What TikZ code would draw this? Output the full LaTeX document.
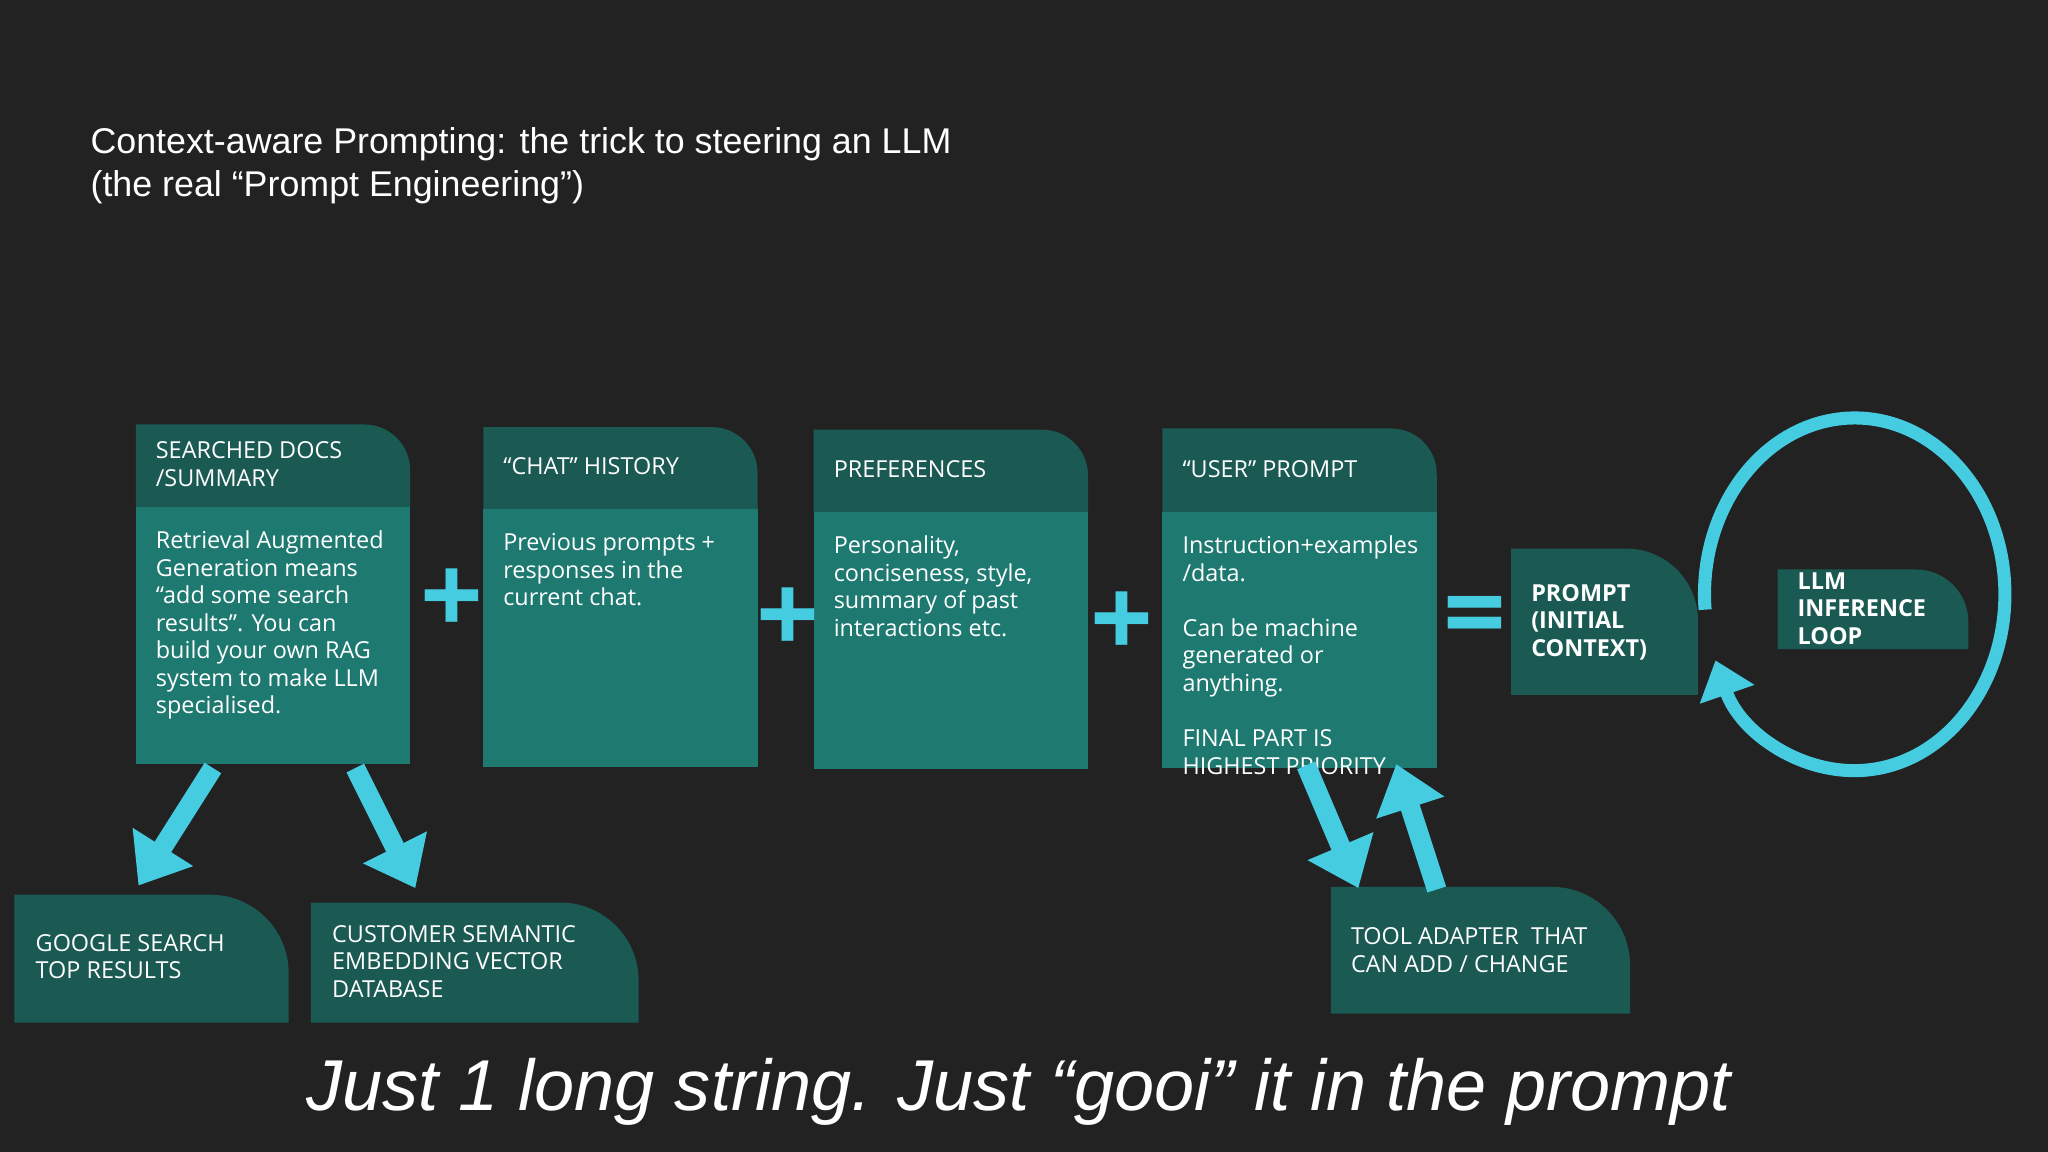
\documentclass[tikz,border=0pt]{standalone}
\usepackage{fontspec}
\setmainfont{Open Sans}
\newfontfamily\arialf{Liberation Sans}
\usetikzlibrary{arrows.meta}
\definecolor{bg}{HTML}{222222}
\definecolor{hd}{HTML}{1A5A53}
\definecolor{bd}{HTML}{1E7A70}
\definecolor{cy}{HTML}{45CCE0}
\tikzset{
 txt/.style={anchor=north west,align=left,text=white,inner sep=0pt,font=\fontsize{10.2}{12}\selectfont},
 htxt/.style={txt},
 barrow/.style={cy,line width=0.3cm,-{Triangle[length=0.7cm,width=1.05cm]}},
 sign/.style={text=cy,font=\fontsize{48}{48}\selectfont\bfseries}
}
\newcommand{\cbox}[5]{% x1 x2 ytop ymid ybot
 \fill[hd] (#1,#4) -- (#1,#3) [rounded corners=0.7cm] -- (#2,#3) [sharp corners] -- (#2,#4) -- cycle;
 \fill[bd] (#1,#4) rectangle (#2,#5);}
\begin{document}
\begin{tikzpicture}[x=0.02cm,y=-0.02cm]
\fill[bg] (0,0) rectangle (1568,882);
\node[anchor=north west,inner sep=0pt,text=white,align=left,font=\arialf\fontsize{15.6}{18.7}\selectfont] (title) at (69,97) {Context-aware Prompting: the trick to steering an LLM\\(the real “Prompt Engineering”)};
% boxes
\cbox{104}{314}{325}{388}{585}
\cbox{370}{580}{327}{390}{587}
\cbox{623}{833}{329}{392}{589}
\cbox{890}{1100}{328}{392}{588}
\node[htxt] (h1) at (119,338) {SEARCHED DOCS\\/SUMMARY};
\node[txt] (b1) at (119,406) {Retrieval Augmented\\Generation means\\“add some search\\results”. You can\\build your own RAG\\system to make LLM\\specialised.};
\node[htxt] (h2) at (385,350) {“CHAT” HISTORY};
\node[txt] (b2) at (385,408) {Previous prompts +\\responses in the\\current chat.};
\node[htxt] (h3) at (638,352) {PREFERENCES};
\node[txt] (b3) at (638,410) {Personality,\\conciseness, style,\\summary of past\\interactions etc.};
\node[htxt] (h4) at (905,352) {“USER” PROMPT};
\node[txt] (b4) at (905,410) {Instruction+examples\\/data.\\[12pt]Can be machine\\generated or\\anything.\\[12pt]FINAL PART IS\\HIGHEST PRIORITY};
% signs
\node[sign] (p1) at (346,461) {+};
\node[sign] (p2) at (603,475) {+};
\node[sign] (p3) at (859,478) {+};
\node[sign] (eq) at (1129,478) {=};
% prompt
\fill[hd] (1157,532) -- (1157,420) [rounded corners=1.1cm] -- (1300,420) [sharp corners] -- (1300,532) -- cycle;
\node[txt,font=\bfseries\fontsize{10.2}{12}\selectfont] (pr) at (1172,447) {PROMPT\\(INITIAL\\CONTEXT)};
\fill[hd] (1361,497) -- (1361,436) [rounded corners=0.8cm] -- (1507,436) [sharp corners] -- (1507,497) -- cycle;
\node[txt,font=\bfseries\fontsize{10.2}{12}\selectfont] (llm) at (1376,438) {LLM\\INFERENCE\\LOOP};
% loop
\coordinate (lc) at (1420,455);
\draw[cy,line width=0.2cm,-{Triangle[length=0.55cm,width=0.85cm]}] ([shift={(175:115 and 135)}]lc) arc[start angle=175,end angle=518,x radius=115,y radius=135];
% bottom boxes
\fill[hd] (11,783) -- (11,685) [rounded corners=1.2cm] -- (221,685) [sharp corners] -- (221,783) -- cycle;
\node[txt] (g) at (27,715) {GOOGLE SEARCH\\TOP RESULTS};
\fill[hd] (238,783) -- (238,691) [rounded corners=1.2cm] -- (489,691) [sharp corners] -- (489,783) -- cycle;
\node[txt] (c) at (254,708) {CUSTOMER SEMANTIC\\EMBEDDING VECTOR\\DATABASE};
\fill[hd] (1019,776) -- (1019,679) [rounded corners=1.2cm] -- (1248,679) [sharp corners] -- (1248,776) -- cycle;
\node[txt] (t) at (1034,710) {TOOL ADAPTER \ THAT\\CAN ADD / CHANGE};
% arrows
\coordinate (a1s) at (163,588); \coordinate (a1e) at (106,678);
\coordinate (a2s) at (272,588); \coordinate (a2e) at (318,680);
\coordinate (a3s) at (1000,586); \coordinate (a3e) at (1040,680);
\coordinate (a4s) at (1100,681); \coordinate (a4e) at (1069,585);
\draw[barrow] (a1s) -- (a1e);
\draw[barrow] (a2s) -- (a2e);
\draw[barrow] (a3s) -- (a3e);
\draw[barrow] (a4s) -- (a4e);
\node[inner sep=0pt,text=white,font=\arialf\itshape\fontsize{31.4}{34}\selectfont] (foot) at (780,836) {Just 1 long string. Just “gooi” it in the prompt};
\end{tikzpicture}
\end{document}
